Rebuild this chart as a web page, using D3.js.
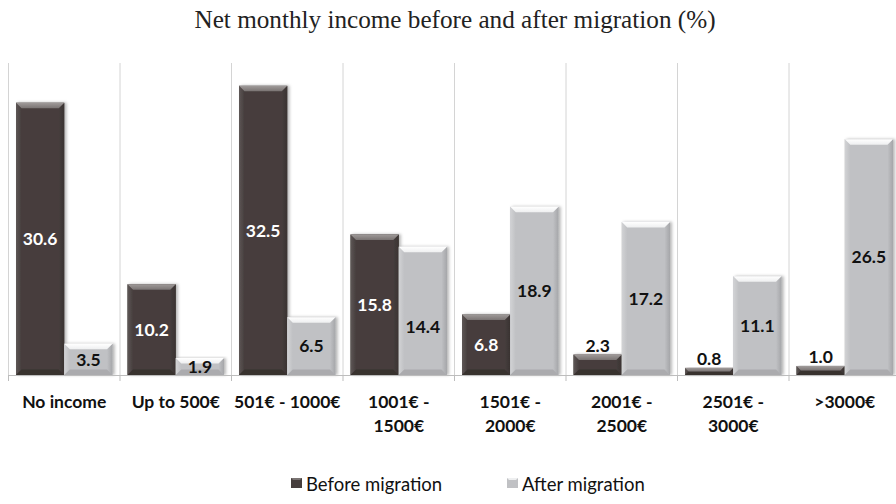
<!DOCTYPE html>
<html><head><meta charset="utf-8">
<script src="https://cdn.jsdelivr.net/npm/d3@7"></script>
<style>body{margin:0;background:#fff}svg{display:block}</style>
</head><body>
<svg id="c" width="896" height="504"></svg>
<script>
const categories = [["No income"],["Up to 500€"],["501€ - 1000€"],["1001€ -","1500€"],["1501€ -","2000€"],["2001€ -","2500€"],["2501€ -","3000€"],[">3000€"]];
const before = [30.6, 10.2, 32.5, 15.8, 6.8, 2.3, 0.8, 1.0];
const after = [3.5, 1.9, 6.5, 14.4, 18.9, 17.2, 11.1, 26.5];
const seriesNames = ["Before migration", "After migration"];
const title = "Net monthly income before and after migration (%)";

const svg = d3.select("#c");
const W = 896, H = 504;
const x0 = 8.5, catW = 111.5, baseY = 375;
const x = d3.scaleBand().domain(d3.range(categories.length)).range([x0, x0 + catW*categories.length]).padding(0);
const xs = d3.scaleBand().domain([0,1]).range([7.5, catW-7.5]).padding(0);
const y = d3.scaleLinear().domain([0, 35]).range([baseY, baseY - 35*8.9]);

const defs = svg.append("defs");
const f = defs.append("filter").attr("id","sh").attr("x","-20%").attr("y","-10%").attr("width","150%").attr("height","130%");
f.append("feDropShadow").attr("dx",2).attr("dy",0).attr("stdDeviation",1.6).attr("flood-color","#000").attr("flood-opacity",0.28);

const pal = [
  {main:"#463e3d", top:"#7a7473", topHi:"#a09b9a", side:"#3a3332", sideL:"#5e5756", bottom:"#2e2827"},
  {main:"#c0c1c4", top:"#eeeff0", topHi:"#ffffff", side:"#a5a6a9", sideL:"#d2d3d5", bottom:"#9c9da0"}
];
pal.forEach((p,i)=>{
  const g = defs.append("linearGradient").attr("id","tg"+i).attr("x1",0).attr("y1",0).attr("x2",0).attr("y2",1);
  g.append("stop").attr("offset",0).attr("stop-color",p.topHi);
  g.append("stop").attr("offset",1).attr("stop-color",p.top);
  const gr = defs.append("linearGradient").attr("id","rg"+i).attr("x1",0).attr("y1",0).attr("x2",1).attr("y2",0);
  gr.append("stop").attr("offset",0).attr("stop-color",p.main);
  gr.append("stop").attr("offset",1).attr("stop-color",p.side);
  const gl = defs.append("linearGradient").attr("id","lg"+i).attr("x1",0).attr("y1",0).attr("x2",1).attr("y2",0);
  gl.append("stop").attr("offset",0).attr("stop-color",p.sideL);
  gl.append("stop").attr("offset",1).attr("stop-color",p.main);
});

// title
svg.append("text").attr("x", 455).attr("y", 28).attr("text-anchor","middle")
  .attr("font-family","'Liberation Serif', serif").attr("font-size",25.2).attr("fill","#222")
  .text(title);

// gridlines
const bounds = d3.range(categories.length).map(i => x(i));
svg.append("g").selectAll("line").data(bounds).join("line")
  .attr("x1", d=>d).attr("x2", d=>d).attr("y1", 63).attr("y2", baseY)
  .attr("stroke","#d4d4d4").attr("stroke-width",1);

// bars
const data = [];
categories.forEach((c,i)=>{
  [before[i], after[i]].forEach((v,s)=> data.push({i, s, v}));
});
const bev = 5.5;
const bars = svg.append("g").selectAll("g").data(data).join("g")
  .attr("filter","url(#sh)");
bars.each(function(d){
  const g = d3.select(this);
  const bx = x(d.i) + xs(d.s), bw = xs.bandwidth();
  const ty = y(d.v), h = baseY - ty;
  const p = pal[d.s];
  const b = Math.min(bev, h/2);
  g.append("rect").attr("x",bx).attr("y",ty).attr("width",bw).attr("height",h).attr("fill",p.main);
  g.append("polygon").attr("points",[[bx,ty],[bx+b,ty+b],[bx+b,baseY-b],[bx,baseY]].join(" ")).attr("fill","url(#lg"+d.s+")");
  g.append("polygon").attr("points",[[bx+bw,ty],[bx+bw-b,ty+b],[bx+bw-b,baseY-b],[bx+bw,baseY]].join(" ")).attr("fill","url(#rg"+d.s+")");
  g.append("polygon").attr("points",[[bx,baseY],[bx+b,baseY-b],[bx+bw-b,baseY-b],[bx+bw,baseY]].join(" ")).attr("fill",p.bottom).attr("opacity",0.6);
  g.append("polygon").attr("points",[[bx,ty],[bx+bw,ty],[bx+bw-b,ty+b],[bx+b,ty+b]].join(" ")).attr("fill","url(#tg"+d.s+")");
});

// value labels
svg.append("g").selectAll("text").data(data).join("text")
  .attr("x", d => x(d.i) + xs(d.s) + xs.bandwidth()/2)
  .attr("y", d => {
    if (d.v < 3 && d.s === 0) return y(d.v) - 9;
    let cy = (y(d.v) + baseY)/2;
    if (d.s === 1 && d.i === 3) cy += 16;
    return cy;
  })
  .attr("dy","0.36em")
  .attr("text-anchor","middle")
  .attr("font-family","Lato, 'Open Sans', sans-serif").attr("font-weight","bold").attr("font-size",17.5)
  .attr("fill", d => (d.s === 0 && d.v >= 3) ? "#fff" : "#111")
  .text(d => d.v.toFixed(1));

// axis line + ticks
const ax = svg.append("g");
ax.append("line").attr("x1", x0).attr("x2", W).attr("y1", baseY+0.5).attr("y2", baseY+0.5).attr("stroke","#bdbdbd");
ax.selectAll("line.t").data(bounds).join("line").attr("class","t")
  .attr("x1", d=>d).attr("x2", d=>d).attr("y1", baseY).attr("y2", baseY+6).attr("stroke","#bdbdbd");

// category labels
const cl = svg.append("g").selectAll("text").data(categories).join("text")
  .attr("x", (d,i) => x(i) + catW/2).attr("y", 408)
  .attr("text-anchor","middle")
  .attr("font-family","Lato, 'Open Sans', sans-serif").attr("font-weight","bold").attr("font-size",17.5).attr("fill","#111");
cl.each(function(d){
  const t = d3.select(this);
  d.forEach((line,k)=> t.append("tspan").attr("x", t.attr("x")).attr("dy", k===0?0:23.5).text(line));
});

// legend
const lg = svg.append("g");
const legX = [291, 507];
seriesNames.forEach((n,s)=>{
  const gx = legX[s];
  lg.append("rect").attr("x",gx).attr("y",478).attr("width",11).attr("height",10).attr("fill",pal[s].main);
  lg.append("polygon").attr("points",[[gx,478],[gx+11,478],[gx+9,480],[gx+2,480]].join(" ")).attr("fill",pal[s].top);
  lg.append("text").attr("x",gx+15).attr("y",491).attr("font-family","Lato, 'Open Sans', sans-serif")
    .attr("font-size",18.5).attr("fill","#111").text(n);
});
</script>
</body></html>
